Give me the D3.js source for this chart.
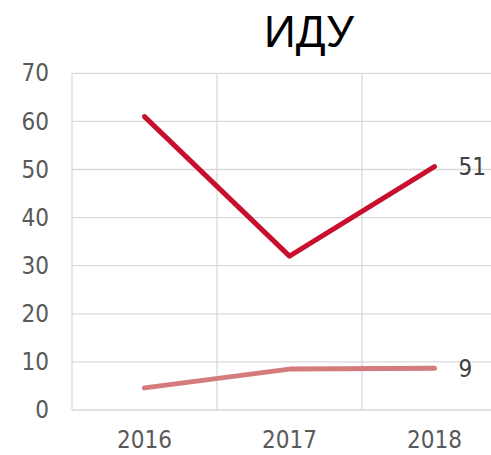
<!DOCTYPE html>
<html>
<head>
<meta charset="utf-8">
<script src="https://cdn.jsdelivr.net/npm/d3@7"></script>
<style>
  html, body { margin: 0; padding: 0; background: #fff; }
  svg { display: block; }
</style>
</head>
<body>
<svg id="chart" width="491" height="455"></svg>
<script>
const title = "ИДУ";
const categories = ["2016", "2017", "2018"];
const seriesA = [61, 32, 50.6];   // red line
const seriesB = [4.6, 8.5, 8.7];  // pink line
const labelsA = ["", "", "51"];
const labelsB = ["", "", "9"];
const yTicks = [0, 10, 20, 30, 40, 50, 60, 70];

const tickFont = "Tahoma, 'DejaVu Sans Condensed', 'Liberation Sans', sans-serif";
const svg = d3.select("#chart");
const plotLeft = 72, plotRight = 507, plotTop = 73.3, plotBottom = 410;

const x = d3.scaleBand().domain(categories).range([plotLeft, plotRight]).padding(0);
const y = d3.scaleLinear().domain([0, 70]).range([plotBottom, plotTop]);

// horizontal gridlines
svg.append("g").selectAll("line").data(yTicks).join("line")
  .attr("x1", plotLeft).attr("x2", plotRight)
  .attr("y1", d => y(d)).attr("y2", d => y(d))
  .attr("stroke", "#d9d9d9").attr("stroke-width", 1.3);

// vertical gridlines at category boundaries
svg.append("g").selectAll("line").data(categories).join("line")
  .attr("x1", d => x(d)).attr("x2", d => x(d))
  .attr("y1", plotTop).attr("y2", plotBottom)
  .attr("stroke", "#d9d9d9").attr("stroke-width", 1.3);

// y axis labels
const yAxis = d3.axisLeft(y).tickValues(yTicks).tickSize(0).tickPadding(23);
const gy = svg.append("g").attr("transform", `translate(${plotLeft},0)`).call(yAxis);
gy.select(".domain").remove();
gy.selectAll("text").attr("font-family", tickFont).attr("font-size", 24).attr("fill", "#595959");

// x axis labels
const xAxis = d3.axisBottom(x).tickSize(0).tickPadding(21);
const gx = svg.append("g").attr("transform", `translate(0,${plotBottom})`).call(xAxis);
gx.select(".domain").remove();
gx.selectAll("text").attr("font-family", tickFont).attr("font-size", 24).attr("fill", "#595959");

const cx = d => x(d) + x.bandwidth() / 2;
const line = d3.line().x((d, i) => cx(categories[i])).y(d => y(d));

function drawSeries(values, color, labels) {
  svg.append("path").datum(values)
    .attr("d", line).attr("fill", "none")
    .attr("stroke", color).attr("stroke-width", 5)
    .attr("stroke-linecap", "round").attr("stroke-linejoin", "round");
  svg.append("g").selectAll("text").data(values).join("text")
    .attr("x", (d, i) => cx(categories[i]) + 24)
    .attr("y", d => y(d))
    .attr("dy", "0.36em")
    .attr("font-family", tickFont).attr("font-size", 24).attr("fill", "#404040")
    .text((d, i) => labels[i]);
}
drawSeries(seriesB, "#D47B7E", labelsB);
drawSeries(seriesA, "#C8102E", labelsA);

svg.append("text").attr("x", 309).attr("y", 47)
  .attr("text-anchor", "middle")
  .attr("font-family", "'Liberation Sans', Arial, sans-serif")
  .attr("font-size", 44).attr("fill", "#000")
  .text(title);
</script>
</body>
</html>
